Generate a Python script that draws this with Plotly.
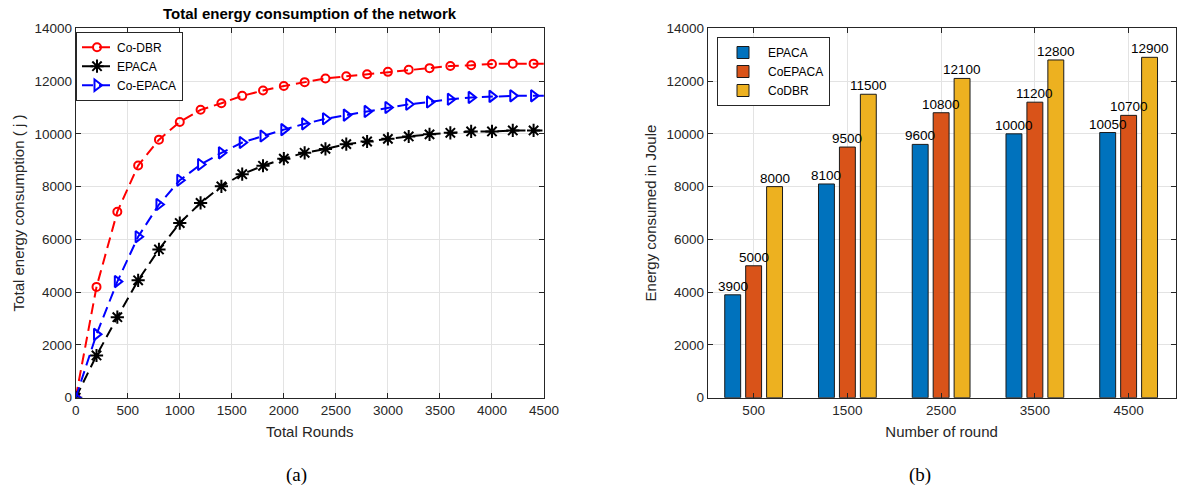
import plotly.graph_objects as go

# ---------------- data ----------------
rounds = [0, 200, 400, 600, 800, 1000, 1200, 1400, 1600, 1800, 2000, 2200, 2400,
          2600, 2800, 3000, 3200, 3400, 3600, 3800, 4000, 4200, 4400, 4600]
co_dbr = [0, 4200, 7050, 8800, 9780, 10450, 10910, 11160, 11440, 11640, 11810, 11960, 12100,
          12180, 12260, 12350, 12430, 12490, 12570, 12600, 12650, 12660, 12660, 12660]
epaca = [0, 1600, 3050, 4450, 5620, 6620, 7380, 8010, 8470, 8790, 9060, 9280, 9430,
         9610, 9710, 9810, 9900, 9980, 10040, 10090, 10090, 10130, 10130, 10130]
co_epaca = [0, 2400, 4400, 6100, 7320, 8240, 8840, 9280, 9670, 9920, 10160, 10380, 10570,
            10710, 10850, 11000, 11120, 11210, 11310, 11380, 11420, 11440, 11440, 11440]

bar_rounds = ["500", "1500", "2500", "3500", "4500"]
bar_epaca = [3900, 8100, 9600, 10000, 10050]
bar_coepaca = [5000, 9500, 10800, 11200, 10700]
bar_codbr = [8000, 11500, 12100, 12800, 12900]

# the page body margin is removed below, so the figure fills the window
OFF = 0
W, H = 1177 - OFF, 489 - OFF


def px(x):
    return (x - OFF) / W


def py(y):
    return 1 - (y - OFF) / H


AX = "#262626"
GRID = "#e3e3e3"
FONT = "Liberation Sans, Arial, Helvetica, sans-serif"

fig = go.Figure()

# ---------------- left: line chart ----------------
line_specs = [
    ("Co-DBR", co_dbr, "#ff0000", "circle-open", 8),
    ("EPACA", epaca, "#000000", "asterisk-open", 11),
    ("Co-EPACA", co_epaca, "#0000ff", "triangle-right-open", 10),
]
for name, ys, col, sym, sz in line_specs:
    fig.add_trace(go.Scatter(
        x=rounds, y=ys, name=name, mode="lines+markers",
        line=dict(color=col, width=2, dash="11px,6px"),
        marker=dict(symbol=sym, size=sz, color=col, line=dict(width=2, color=col)),
        xaxis="x", yaxis="y", legend="legend", cliponaxis=True,
    ))

# ---------------- right: grouped bars ----------------
bar_specs = [
    ("EPACA", bar_epaca, "#0072BD", -21),
    ("CoEPACA", bar_coepaca, "#D95319", 0),
    ("CoDBR", bar_codbr, "#EDB120", 21),
]
annotations = []
for name, ys, col, shift in bar_specs:
    fig.add_trace(go.Bar(
        x=bar_rounds, y=ys, name=name,
        marker=dict(color=col, line=dict(color="#1a1a1a", width=1)),
        xaxis="x2", yaxis="y2", legend="legend2",
    ))
    for i, v in enumerate(ys):
        annotations.append(dict(
            x=i, y=v, xref="x2", yref="y2", text=str(v), showarrow=False,
            xshift=shift, yshift=-1, xanchor="center", yanchor="bottom",
            font=dict(family=FONT, size=13.5, color="#000")))

axis_common = dict(
    showline=True, linecolor=AX, linewidth=1, mirror="allticks",
    ticks="inside", ticklen=5, tickcolor=AX, tickwidth=1,
    showgrid=True, gridcolor=GRID, gridwidth=1, zeroline=False,
    tickfont=dict(family=FONT, size=13.5, color=AX), automargin=False,
)
title_font = dict(family=FONT, size=15, color=AX)

annotations += [
    dict(text="<b>Total energy consumption of the network</b>", x=(px(75.7) + px(544)) / 2,
         y=py(14), xref="paper", yref="paper", showarrow=False,
         font=dict(family=FONT, size=15, color="#000"), xanchor="center", yanchor="middle"),
    dict(text="(a)", x=px(297), y=py(475), xref="paper", yref="paper", showarrow=False,
         font=dict(family="Liberation Serif, Times New Roman, serif", size=19, color="#000"),
         xanchor="center", yanchor="middle"),
    dict(text="(b)", x=px(920), y=py(475), xref="paper", yref="paper", showarrow=False,
         font=dict(family="Liberation Serif, Times New Roman, serif", size=19, color="#000"),
         xanchor="center", yanchor="middle"),
]

fig.update_layout(
    width=W, height=H,
    margin=dict(l=0, r=0, t=0, b=0),
    paper_bgcolor="white", plot_bgcolor="white",
    font=dict(family=FONT, color=AX),
    barmode="group", bargap=0.33, bargroupgap=0.24,
    xaxis=dict(domain=[px(75.7), px(544)], range=[0, 4500], dtick=500, tick0=0, tickformat="d",
               title=dict(text="Total Rounds", font=title_font, standoff=9),
               anchor="y", **axis_common),
    yaxis=dict(domain=[py(397.7), py(28.3)], range=[0, 14000], dtick=2000, tickformat="d",
               title=dict(text="Total energy consumption ( j )", font=title_font, standoff=6),
               anchor="x", **axis_common),
    xaxis2=dict(domain=[px(707.7), px(1175.5)], type="category", range=[-0.49, 4.5],
                title=dict(text="Number of round", font=title_font, standoff=9),
                anchor="y2", **axis_common),
    yaxis2=dict(domain=[py(397.7), py(28.3)], range=[0, 14000], dtick=2000, tickformat="d",
                title=dict(text="Energy consumed in Joule", font=title_font, standoff=6),
                anchor="x2", **axis_common),
    legend=dict(x=px(76), y=py(31.7), xanchor="left", yanchor="top",
                bgcolor="white", bordercolor=AX, borderwidth=1,
                font=dict(family=FONT, size=12, color="#000"), traceorder="normal",
                itemwidth=30, tracegroupgap=0),
    legend2=dict(x=px(717), y=py(37), xanchor="left", yanchor="top",
                 bgcolor="white", bordercolor=AX, borderwidth=1,
                 font=dict(family=FONT, size=12, color="#000"), traceorder="normal",
                 itemwidth=40, tracegroupgap=0),
    showlegend=True,
    annotations=annotations,
)

fig.write_html(
    "out.html",
    config={"displayModeBar": False},
    post_script="document.body.style.margin='0';document.body.style.padding='0';",
)
